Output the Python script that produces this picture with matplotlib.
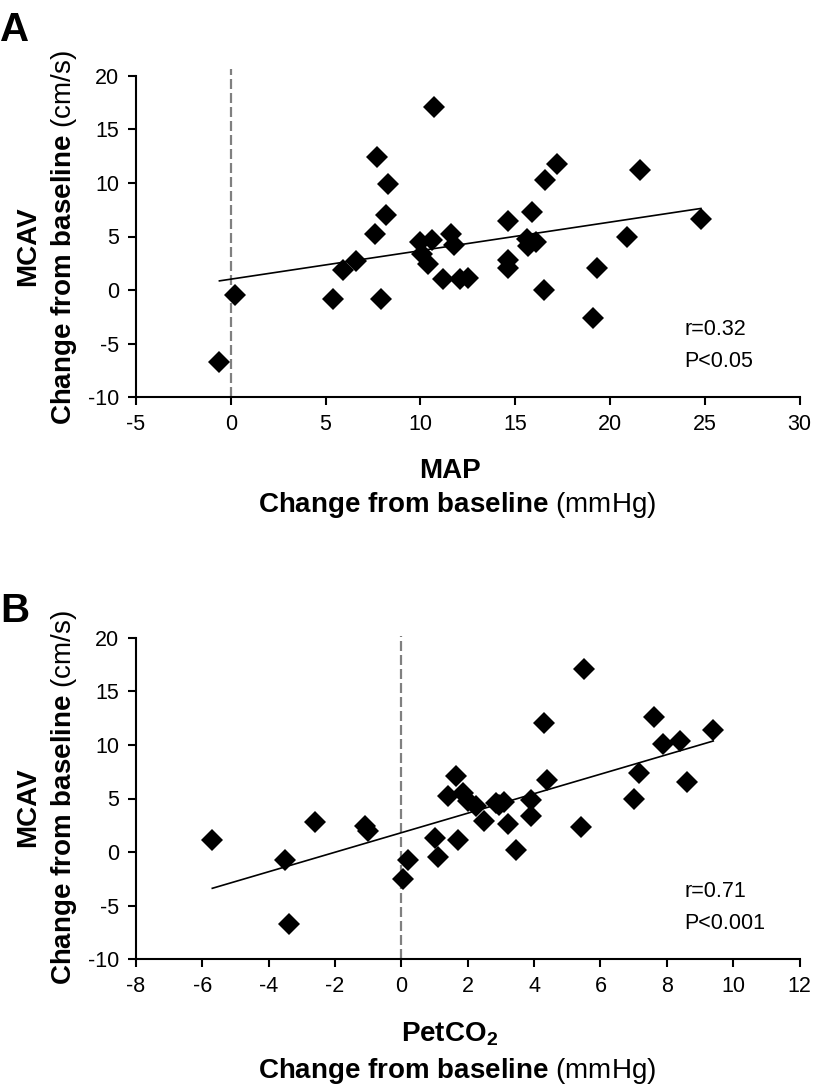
import numpy as np
import matplotlib
matplotlib.use("Agg")
from matplotlib import pyplot as plt

plt.rcParams['font.family'] = ['Liberation Sans', 'DejaVu Sans']
plt.rcParams['mathtext.fontset'] = 'custom'
plt.rcParams['mathtext.rm'] = 'Liberation Sans'
plt.rcParams['mathtext.bf'] = 'Liberation Sans:bold'
plt.rcParams['mathtext.it'] = 'Liberation Sans:italic'
plt.rcParams['axes.unicode_minus'] = False

# panel A : MAP vs MCAV (change from baseline)
map_a = [-0.6, 0.2, 5.4, 5.9, 6.6, 7.9, 7.6, 7.7, 8.3, 8.2, 10.7, 10.0, 10.6, 11.6,
         11.8, 10.1, 10.4, 11.2, 12.1, 12.5, 14.6, 14.6, 14.6, 15.9, 15.6, 15.7,
         16.1, 16.6, 17.2, 16.5, 19.3, 19.1, 20.9, 21.6, 24.8]
mcav_a = [-6.7, -0.5, -0.8, 1.9, 2.7, -0.8, 5.2, 12.4, 9.9, 7.0, 17.1, 4.5, 4.7, 5.2,
          4.2, 3.4, 2.4, 1.0, 1.0, 1.1, 6.4, 2.8, 2.1, 7.3, 4.8, 4.1,
          4.5, 10.3, 11.8, 0.0, 2.1, -2.6, 5.0, 11.2, 6.6]
fit_a = (0.266, 1.02)   # slope, intercept
stats_a = ["r=0.32", "P<0.05"]

# panel B : PetCO2 vs MCAV
petco2_b = [-5.7, -3.5, -3.4, -2.6, -1.1, -1.0, 0.2, 0.05, 1.0, 1.1, 1.7, 1.65, 1.4,
            1.85, 2.0, 2.25, 2.5, 2.85, 2.95, 3.1, 3.2, 3.45, 3.9, 3.9, 4.3, 4.4,
            5.4, 5.5, 7.0, 7.15, 7.6, 7.9, 8.4, 8.6, 9.4]
mcav_b = [1.1, -0.7, -6.7, 2.8, 2.4, 2.0, -0.7, -2.5, 1.3, -0.5, 1.1, 7.1, 5.2,
          5.5, 4.8, 4.3, 2.9, 4.6, 4.4, 4.7, 2.6, 0.2, 4.9, 3.4, 12.0, 6.7,
          2.3, 17.1, 5.0, 7.4, 12.6, 10.1, 10.4, 6.5, 11.4]
fit_b = (0.91, 1.81)
stats_b = ["r=0.71", "P<0.001"]

xticks_a = [-5, 0, 5, 10, 15, 20, 25, 30]
xticks_b = [-8, -6, -4, -2, 0, 2, 4, 6, 8, 10, 12]
yticks = [-10, -5, 0, 5, 10, 15, 20]

W, H = 815, 1088
fig = plt.figure(figsize=(W / 100, H / 100), dpi=100)

def px(x, y):
    return x / W, 1 - y / H

def panel(rect, xs, ys, fit, stats, xticks, dash_top):
    ax = fig.add_axes(rect)
    ax.plot(xs, ys, linestyle='none', marker='D', markersize=11, color='black',
            markeredgewidth=0, zorder=2)
    xl = np.array([min(xs), max(xs)])
    ax.plot(xl, fit[0] * xl + fit[1], color='black', lw=1.2, zorder=3)
    ax.axvline(0, ymin=0, ymax=dash_top, color='#808080', lw=1.6,
               linestyle=(0, (4.5, 1.8)), clip_on=False, zorder=1)
    ax.set_xlim(xticks[0], xticks[-1])
    ax.set_ylim(-10, 20)
    ax.set_xticks(xticks)
    ax.set_yticks(yticks)
    for s in ['top', 'right']:
        ax.spines[s].set_visible(False)
    for s in ['left', 'bottom']:
        ax.spines[s].set_linewidth(1.5)
    ax.tick_params(direction='out', length=5.8, width=1.5, labelsize=15.5, pad=6.5)
    ax.text(0.826, 0.21, stats[0], transform=ax.transAxes, fontsize=15.5, va='center')
    ax.text(0.826, 0.112, stats[1], transform=ax.transAxes, fontsize=15.5, va='center')
    return ax

ax_a = panel([136 / W, 1 - 397.3 / H, 663.5 / W, 321.6 / H], map_a, mcav_a, fit_a,
             stats_a, xticks_a, 1.022)
ax_b = panel([136 / W, 1 - 959.3 / H, 663.5 / W, 321.6 / H], petco2_b, mcav_b, fit_b,
             stats_b, xticks_b, 1.004)

# axis titles (mixed bold / regular)
for top, mid in [(50, 246.5), (610, 807.5)]:
    fig.text(*px(35, mid), "MCAV", fontsize=20, fontweight='bold', rotation=90,
             rotation_mode='anchor', ha='center', va='baseline')
    fig.text(*px(71, top), r"$\mathbf{Change\ from\ baseline}$ (cm/s)", fontsize=20,
             rotation=90, rotation_mode='anchor', ha='right', va='baseline')

fig.text(*px(450, 478.3), "MAP", fontsize=20, fontweight='bold', ha='center', va='baseline')
fig.text(*px(457, 512.5), r"$\mathbf{Change\ from\ baseline}$ (mmHg)", fontsize=20,
         ha='center', va='baseline')
fig.text(*px(450, 1041.7), r"$\mathbf{PetCO_2}$", fontsize=20, ha='center', va='baseline')
fig.text(*px(457, 1077.5), r"$\mathbf{Change\ from\ baseline}$ (mmHg)", fontsize=20,
         ha='center', va='baseline')

fig.text(*px(0, 40.7), "A", fontsize=29, fontweight='bold', ha='left', va='baseline')
fig.text(*px(0, 621.7), "B", fontsize=29, fontweight='bold', ha='left', va='baseline')

fig.savefig("out.png", dpi=100)
